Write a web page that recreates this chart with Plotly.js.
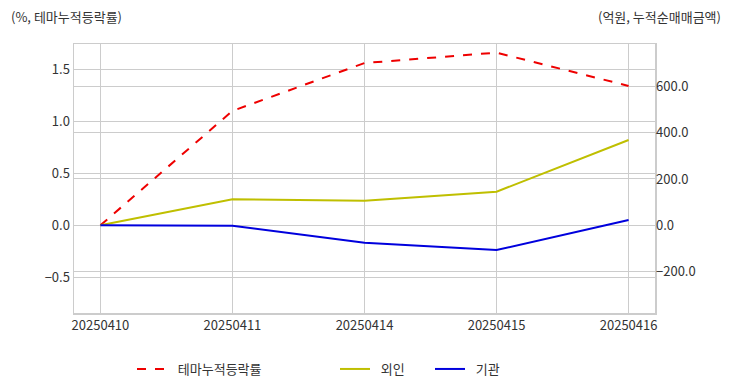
<!DOCTYPE html>
<html><head><meta charset="utf-8">
<script src="https://cdn.plot.ly/plotly-3.0.1.min.js"></script>
<style>html,body{margin:0;padding:0;background:#fff;}#chart{width:732px;height:392px;}</style>
</head><body><div id="chart"></div>
<script>
const dates = ['20250410','20250411','20250414','20250415','20250416'];
const themeReturn = [0.0, 1.10, 1.56, 1.66, 1.34];
const foreignNet = [0, 112, 106, 145, 368];
const instNet = [0, -2, -75, -107, 23];
const seriesNames = ['테마누적등락률', '외인', '기관'];

const FONT = '"Noto Sans CJK KR", "Noto Sans", sans-serif';
const PAD = '\u00a0\u00a0';
const traces = [
  {x: dates, y: themeReturn, name: PAD + seriesNames[0], type: 'scatter', mode: 'lines',
   line: {color: '#ee0000', width: 2, dash: 'dash'}, yaxis: 'y', legend: 'legend'},
  {x: dates, y: foreignNet, name: PAD + seriesNames[1], type: 'scatter', mode: 'lines',
   line: {color: '#bfbf00', width: 2}, yaxis: 'y2', legend: 'legend2'},
  {x: dates, y: instNet, name: PAD + seriesNames[2], type: 'scatter', mode: 'lines',
   line: {color: '#0000dd', width: 2}, yaxis: 'y2', legend: 'legend3'}
];
function leg(xpx) {
  return {orientation: 'h', xref: 'container', yref: 'container', x: xpx / 732, xanchor: 'left',
          y: 1 - 369 / 392, yanchor: 'middle', font: {size: 13, color: '#333'},
          bgcolor: 'rgba(0,0,0,0)', borderwidth: 0};
}
const layout = {
  width: 732, height: 392,
  margin: {l: 74, r: 77, t: 44, b: 79},
  paper_bgcolor: '#fff', plot_bgcolor: '#fff',
  font: {family: FONT, size: 13, color: '#333'},
  showlegend: true,
  legend: leg(132), legend2: leg(335), legend3: leg(430),
  xaxis: {type: 'category', range: [-0.2, 4.2], showgrid: true, gridcolor: '#cccccc',
          showline: true, mirror: true, linecolor: '#cccccc', linewidth: 1.5,
          ticks: '', tickfont: {size: 13, color: '#333'}, zeroline: false, automargin: false},
  yaxis: {range: [-0.843, 1.743], tickvals: [-0.5, 0, 0.5, 1.0, 1.5], tickformat: '.1f',
          showgrid: true, gridcolor: '#cccccc', zeroline: false, automargin: false,
          showline: true, mirror: true, linecolor: '#cccccc', linewidth: 1.5,
          ticks: '', tickfont: {size: 13, color: '#333'}},
  yaxis2: {range: [-378.6, 782.6], tickvals: [-200, 0, 200, 400, 600], tickformat: '.1f',
           overlaying: 'y', side: 'right', showgrid: true, gridcolor: '#cccccc', zeroline: false,
           showline: false, ticks: '', automargin: false, tickfont: {size: 13, color: '#333'}},
  annotations: [
    {text: '(%, 테마누적등락률)', xref: 'paper', yref: 'paper', x: -74/581 + 9/581, xanchor: 'left',
     y: (313 - 16) / 269, yanchor: 'middle', showarrow: false, font: {size: 13, color: '#333'}},
    {text: '(억원, 누적순매매금액)', xref: 'paper', yref: 'paper', x: 1 + 68/581, xanchor: 'right',
     y: (313 - 16) / 269, yanchor: 'middle', showarrow: false, font: {size: 13, color: '#333'}}
  ]
};
Plotly.newPlot('chart', traces, layout, {displayModeBar: false, staticPlot: true});
</script></body></html>
